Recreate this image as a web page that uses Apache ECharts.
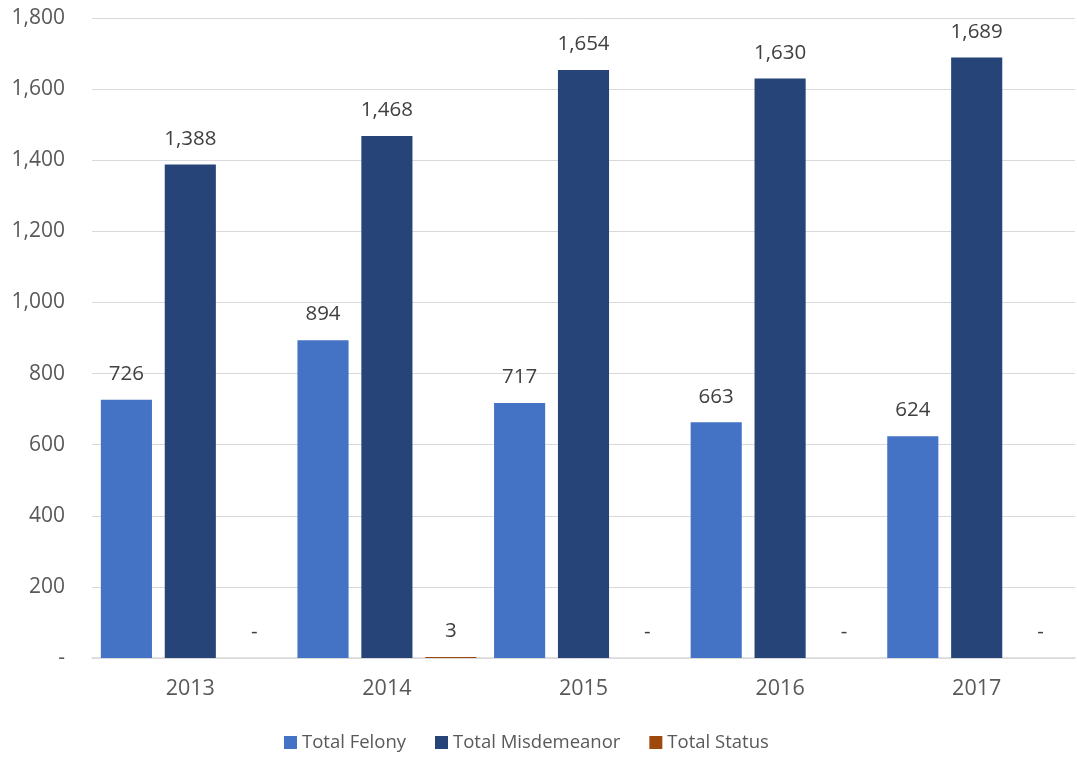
<!DOCTYPE html>
<html><head><meta charset="utf-8">
<script src="https://cdn.jsdelivr.net/npm/echarts@6/dist/echarts.min.js"></script>
<style>html,body{margin:0;padding:0;background:#fff}#c{width:1077px;height:758px}</style>
</head><body><div id="c"></div>
<script>
const years = ['2013','2014','2015','2016','2017'];
const felony = [726, 894, 717, 663, 624];
const misdemeanor = [1388, 1468, 1654, 1630, 1689];
const status = [0, 3, 0, 0, 0];
const seriesNames = ['Total Felony','Total Misdemeanor','Total Status'];
const colors = ['#4472C4','#264478','#9E480E'];
const fmt = v => v === 0 ? '-' : v.toLocaleString('en-US');
const font = 'Open Sans';
const chart = echarts.init(document.getElementById('c'));
const mk = (name, data, color) => ({
  name, type: 'bar', data, itemStyle: {color},
  barGap: '25%', barCategoryGap: '9%',
  label: {show: true, position: 'top', distance: 15, color: '#404040', fontSize: 20.5, fontFamily: font,
    formatter: p => fmt(p.value)}
});
chart.setOption({
  animation: false,
  color: colors,
  grid: {left: 92, right: 2, top: 18, bottom: 100},
  legend: {bottom: 1, left: 279, itemWidth: 13, itemHeight: 13, itemGap: 29,
    textStyle: {color: '#595959', fontSize: 18.5, fontFamily: font},
    icon: 'rect', data: seriesNames},
  xAxis: {type: 'category', data: years,
    axisLine: {lineStyle: {color: '#D9D9D9', width: 1.5}}, axisTick: {show: false},
    axisLabel: {color: '#595959', fontSize: 21.5, fontFamily: font, margin: 20}},
  yAxis: {type: 'value', min: 0, max: 1800, interval: 200,
    axisLine: {show: false}, axisTick: {show: false},
    splitLine: {lineStyle: {color: '#D9D9D9'}},
    axisLabel: {color: '#595959', fontSize: 21, fontFamily: font, margin: 27, formatter: fmt}},
  series: [mk(seriesNames[0], felony, colors[0]), mk(seriesNames[1], misdemeanor, colors[1]), mk(seriesNames[2], status, colors[2])]
});
</script></body></html>
